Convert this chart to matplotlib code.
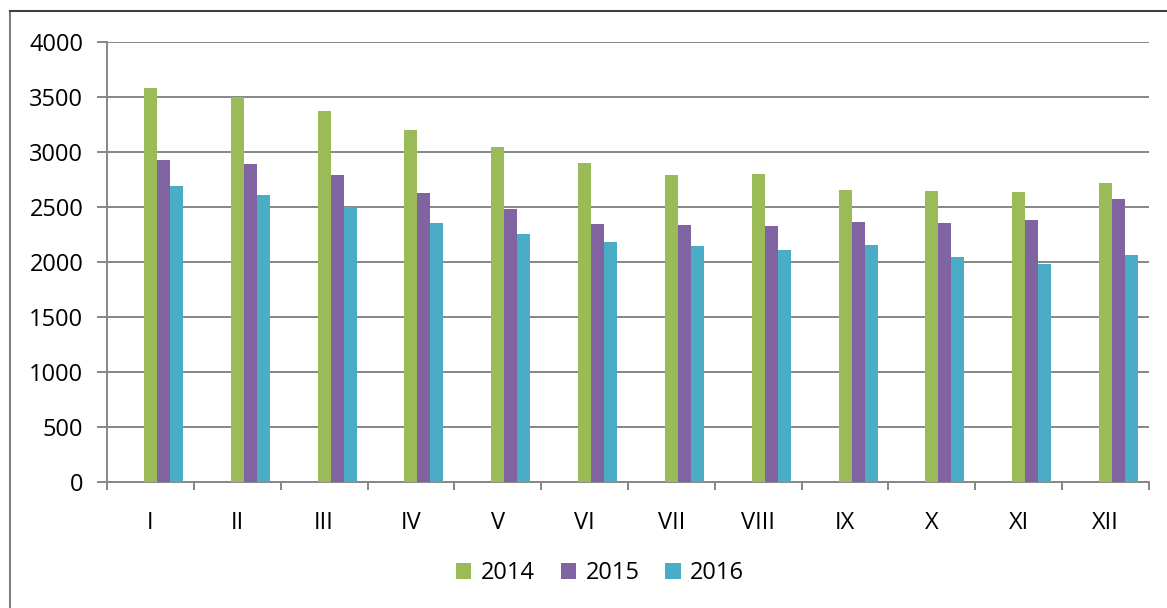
import numpy as np
import matplotlib
matplotlib.use("Agg")
import matplotlib.pyplot as plt
from matplotlib.lines import Line2D

plt.rcParams['font.family'] = ['Open Sans', 'DejaVu Sans']

months = ['I', 'II', 'III', 'IV', 'V', 'VI', 'VII', 'VIII', 'IX', 'X', 'XI', 'XII']
years = ['2014', '2015', '2016']
v2014 = [3576, 3500, 3367, 3195, 3043, 2897, 2788, 2794, 2649, 2640, 2634, 2713]
v2015 = [2925, 2888, 2788, 2627, 2479, 2343, 2336, 2322, 2358, 2352, 2379, 2567]
v2016 = [2691, 2609, 2500, 2349, 2252, 2182, 2143, 2104, 2149, 2043, 1979, 2058]
colors = ['#9BBB59', '#8064A2', '#4BACC6']

fig = plt.figure(figsize=(11.67, 6.08), dpi=100)
ax = fig.add_axes([107 / 1167, 1 - 481.7 / 608, (1149 - 107) / 1167, (481.7 - 41.7) / 608])

x = np.arange(len(months))
w = 0.15
for i, (vals, c, lab) in enumerate(zip([v2014, v2015, v2016], colors, years)):
    ax.bar(x + i * w, vals, width=w, color=c, label=lab, zorder=3)

ax.set_xlim(-0.5, len(months) - 0.5)
ax.set_ylim(0, 4000)
ax.set_yticks(range(0, 4001, 500))
ax.yaxis.grid(True, color='#868686', lw=1.4, zorder=0)
ax.set_xticks(x)
ax.set_xticklabels(months)
ax.set_xticks(np.arange(-0.5, len(months)), minor=True)
ax.tick_params(axis='x', which='major', length=0, pad=21, labelsize=17, labelcolor='black')
ax.tick_params(axis='x', which='minor', length=6, width=1.4, color='#868686')
ax.tick_params(axis='y', length=7, width=1.4, color='#868686', pad=10, labelsize=17,
               labelcolor='black')
for s in ['top', 'right']:
    ax.spines[s].set_visible(False)
for s in ['left', 'bottom']:
    ax.spines[s].set_color('#868686')
    ax.spines[s].set_linewidth(1.4)

ax.legend(loc='center', bbox_to_anchor=(600 / 1167, 1 - 573 / 608),
          bbox_transform=fig.transFigure, ncol=3, frameon=False, fontsize=17,
          handlelength=0.65, handleheight=0.65, handletextpad=0.4, columnspacing=1.1)

# outer chart border (left and top visible)
fig.add_artist(Line2D([10 / 1167, 10 / 1167], [0, 1 - 11 / 608], color='#7f7f7f', lw=1.5))
fig.add_artist(Line2D([10 / 1167, 1], [1 - 11 / 608, 1 - 11 / 608], color='#404040', lw=1.5))

fig.savefig('out.png', dpi=100)
